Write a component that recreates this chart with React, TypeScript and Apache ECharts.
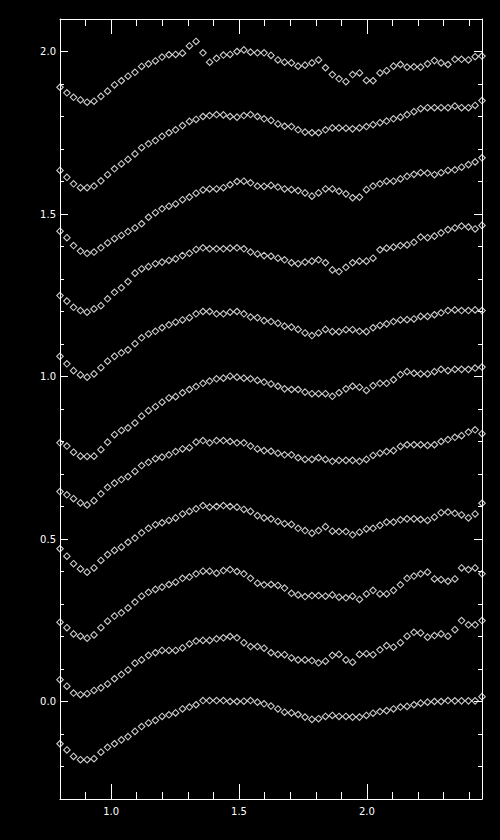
import React, { useEffect, useRef } from "react";
import * as echarts from "echarts";

// x positions (same for every curve)
const xs = [
  0.800, 0.827, 0.853, 0.880, 0.906, 0.933, 0.960, 0.986, 1.013, 1.040,
  1.066, 1.093, 1.119, 1.146, 1.173, 1.199, 1.226, 1.252, 1.279, 1.306,
  1.332, 1.359, 1.385, 1.412, 1.439, 1.465, 1.492, 1.519, 1.545, 1.572,
  1.598, 1.625, 1.652, 1.678, 1.705, 1.731, 1.758, 1.785, 1.811, 1.838,
  1.865, 1.891, 1.918, 1.944, 1.971, 1.998, 2.024, 2.051, 2.077, 2.104,
  2.131, 2.157, 2.184, 2.210, 2.237, 2.264, 2.290, 2.317, 2.344, 2.370,
  2.397, 2.423, 2.450,
];

const s10 = [1.890, 1.873, 1.859, 1.851, 1.844, 1.847, 1.862, 1.878, 1.897, 1.910, 1.924, 1.936, 1.954, 1.962, 1.971, 1.983, 1.990, 1.991, 1.995, 2.017, 2.031, 1.996, 1.967, 1.979, 1.989, 1.991, 2.000, 2.005, 1.998, 1.996, 1.996, 1.988, 1.974, 1.967, 1.965, 1.955, 1.958, 1.965, 1.974, 1.950, 1.929, 1.916, 1.907, 1.929, 1.934, 1.911, 1.910, 1.934, 1.941, 1.955, 1.960, 1.952, 1.953, 1.952, 1.962, 1.972, 1.965, 1.960, 1.976, 1.976, 1.974, 1.984, 1.986];
const s9 = [1.634, 1.613, 1.593, 1.581, 1.581, 1.586, 1.602, 1.621, 1.639, 1.654, 1.668, 1.685, 1.704, 1.716, 1.726, 1.739, 1.750, 1.759, 1.772, 1.785, 1.791, 1.800, 1.803, 1.806, 1.805, 1.800, 1.798, 1.803, 1.806, 1.800, 1.793, 1.788, 1.777, 1.770, 1.769, 1.759, 1.752, 1.750, 1.750, 1.759, 1.765, 1.765, 1.764, 1.762, 1.765, 1.769, 1.775, 1.781, 1.786, 1.793, 1.798, 1.806, 1.815, 1.824, 1.827, 1.827, 1.827, 1.827, 1.832, 1.827, 1.827, 1.834, 1.849];
const s8 = [1.447, 1.427, 1.403, 1.386, 1.379, 1.383, 1.396, 1.411, 1.424, 1.434, 1.446, 1.457, 1.470, 1.490, 1.504, 1.516, 1.524, 1.531, 1.544, 1.552, 1.564, 1.574, 1.577, 1.577, 1.581, 1.590, 1.600, 1.601, 1.596, 1.586, 1.585, 1.588, 1.583, 1.577, 1.575, 1.572, 1.565, 1.555, 1.565, 1.577, 1.577, 1.570, 1.562, 1.550, 1.552, 1.575, 1.586, 1.593, 1.601, 1.601, 1.608, 1.616, 1.622, 1.627, 1.626, 1.621, 1.627, 1.634, 1.636, 1.644, 1.652, 1.660, 1.673];
const s7 = [1.249, 1.232, 1.213, 1.203, 1.198, 1.208, 1.218, 1.239, 1.259, 1.273, 1.292, 1.318, 1.331, 1.338, 1.347, 1.352, 1.357, 1.362, 1.372, 1.379, 1.391, 1.396, 1.393, 1.393, 1.393, 1.395, 1.396, 1.393, 1.383, 1.377, 1.372, 1.370, 1.364, 1.359, 1.350, 1.347, 1.352, 1.355, 1.359, 1.350, 1.328, 1.323, 1.336, 1.350, 1.355, 1.355, 1.364, 1.390, 1.395, 1.398, 1.403, 1.405, 1.413, 1.429, 1.427, 1.432, 1.442, 1.452, 1.457, 1.463, 1.460, 1.454, 1.465];
const s6 = [1.062, 1.039, 1.018, 1.005, 0.998, 1.008, 1.027, 1.047, 1.062, 1.073, 1.082, 1.101, 1.119, 1.131, 1.139, 1.150, 1.159, 1.167, 1.174, 1.181, 1.193, 1.200, 1.200, 1.193, 1.193, 1.198, 1.200, 1.193, 1.183, 1.181, 1.172, 1.169, 1.164, 1.155, 1.152, 1.145, 1.134, 1.126, 1.134, 1.145, 1.138, 1.138, 1.144, 1.144, 1.139, 1.138, 1.150, 1.157, 1.162, 1.169, 1.174, 1.175, 1.177, 1.185, 1.185, 1.190, 1.196, 1.203, 1.205, 1.203, 1.203, 1.205, 1.203];
const s5 = [0.796, 0.786, 0.767, 0.755, 0.754, 0.755, 0.775, 0.798, 0.821, 0.834, 0.842, 0.857, 0.878, 0.895, 0.907, 0.921, 0.934, 0.938, 0.950, 0.960, 0.969, 0.979, 0.986, 0.993, 0.995, 1.001, 0.998, 0.995, 0.993, 0.988, 0.983, 0.977, 0.970, 0.962, 0.960, 0.960, 0.952, 0.947, 0.947, 0.947, 0.939, 0.950, 0.962, 0.970, 0.967, 0.957, 0.972, 0.979, 0.979, 0.990, 1.006, 1.015, 1.010, 1.008, 1.008, 1.015, 1.022, 1.018, 1.022, 1.022, 1.022, 1.026, 1.029];
const s4 = [0.646, 0.636, 0.624, 0.611, 0.605, 0.618, 0.639, 0.659, 0.672, 0.683, 0.692, 0.708, 0.726, 0.736, 0.747, 0.752, 0.759, 0.769, 0.777, 0.781, 0.798, 0.803, 0.796, 0.803, 0.803, 0.800, 0.796, 0.796, 0.786, 0.777, 0.772, 0.770, 0.764, 0.759, 0.759, 0.750, 0.745, 0.745, 0.750, 0.745, 0.739, 0.742, 0.742, 0.742, 0.739, 0.745, 0.757, 0.764, 0.769, 0.772, 0.785, 0.790, 0.790, 0.790, 0.788, 0.790, 0.800, 0.806, 0.813, 0.818, 0.829, 0.836, 0.824];
const s3 = [0.470, 0.447, 0.424, 0.408, 0.398, 0.411, 0.434, 0.452, 0.465, 0.475, 0.490, 0.503, 0.519, 0.533, 0.544, 0.550, 0.557, 0.565, 0.577, 0.585, 0.593, 0.603, 0.598, 0.600, 0.603, 0.600, 0.598, 0.591, 0.585, 0.572, 0.565, 0.562, 0.554, 0.547, 0.545, 0.533, 0.526, 0.518, 0.526, 0.538, 0.524, 0.523, 0.523, 0.513, 0.521, 0.531, 0.533, 0.542, 0.552, 0.552, 0.559, 0.562, 0.562, 0.560, 0.557, 0.567, 0.581, 0.583, 0.579, 0.574, 0.565, 0.577, 0.610];
const s2 = [0.244, 0.227, 0.208, 0.201, 0.195, 0.205, 0.227, 0.247, 0.263, 0.273, 0.288, 0.306, 0.324, 0.336, 0.345, 0.352, 0.360, 0.367, 0.379, 0.383, 0.393, 0.401, 0.401, 0.395, 0.403, 0.406, 0.400, 0.393, 0.379, 0.364, 0.359, 0.360, 0.357, 0.349, 0.333, 0.328, 0.323, 0.326, 0.326, 0.324, 0.328, 0.321, 0.319, 0.324, 0.314, 0.331, 0.342, 0.331, 0.331, 0.342, 0.359, 0.379, 0.386, 0.393, 0.398, 0.377, 0.375, 0.370, 0.377, 0.411, 0.406, 0.411, 0.393];
const s1 = [0.067, 0.047, 0.026, 0.021, 0.024, 0.034, 0.042, 0.054, 0.070, 0.083, 0.097, 0.118, 0.128, 0.142, 0.150, 0.157, 0.157, 0.157, 0.165, 0.177, 0.186, 0.188, 0.188, 0.193, 0.196, 0.200, 0.196, 0.181, 0.169, 0.169, 0.164, 0.150, 0.145, 0.144, 0.134, 0.128, 0.128, 0.126, 0.119, 0.124, 0.142, 0.145, 0.128, 0.121, 0.145, 0.147, 0.144, 0.159, 0.172, 0.167, 0.181, 0.201, 0.213, 0.211, 0.198, 0.203, 0.208, 0.201, 0.221, 0.249, 0.236, 0.236, 0.249];
const s0 = [-0.130, -0.149, -0.169, -0.179, -0.179, -0.176, -0.156, -0.141, -0.130, -0.118, -0.108, -0.092, -0.077, -0.066, -0.058, -0.046, -0.041, -0.035, -0.023, -0.017, -0.010, 0.003, 0.003, 0.003, 0.003, 0.000, 0.000, 0.001, 0.003, -0.002, -0.007, -0.014, -0.023, -0.033, -0.035, -0.040, -0.048, -0.055, -0.053, -0.046, -0.043, -0.046, -0.046, -0.048, -0.048, -0.043, -0.036, -0.031, -0.028, -0.023, -0.017, -0.015, -0.010, -0.005, -0.002, 0.000, 0.000, 0.003, 0.002, 0.002, 0.002, 0.002, 0.015];

const allSeries = [s0, s1, s2, s3, s4, s5, s6, s7, s8, s9, s10];

const X_MIN = 0.8;
const X_MAX = 2.45;
const Y_MIN = -0.3;
const Y_MAX = 2.1;

const FONT = "DejaVu Sans";

function halfStepLabel(v: number): string {
  const d = v * 2;
  return Math.abs(d - Math.round(d)) < 1e-6 ? v.toFixed(1) : "";
}

function makeAxis(kind: "x" | "y", pos: string, labels: boolean) {
  const isX = kind === "x";
  return {
    type: "value",
    position: pos,
    min: isX ? X_MIN : Y_MIN,
    max: isX ? X_MAX : Y_MAX,
    minInterval: 0.5,
    maxInterval: 0.5,
    axisLine: { show: true, onZero: false, lineStyle: { color: "#ffffff", width: 1 } },
    splitLine: { show: false },
    axisTick: {
      show: true,
      inside: true,
      length: isX ? 15 : 8,
      lineStyle: { color: "#ffffff", width: 1 },
    },
    minorTick: {
      show: true,
      splitNumber: 5,
      length: isX ? 7 : 4,
      lineStyle: { color: "#ffffff", width: 1 },
    },
    axisLabel: {
      show: labels,
      color: "#ffffff",
      fontSize: 10,
      fontFamily: FONT,
      margin: isX ? 7 : 4,
      formatter: halfStepLabel,
    },
  };
}

export default function App() {
  const ref = useRef<HTMLDivElement>(null);

  useEffect(() => {
    document.body.style.margin = "0";
    if (!ref.current) return;
    const chart = echarts.init(ref.current, undefined, { renderer: "svg" });

    chart.setOption({
      animation: false,
      backgroundColor: "#000000",
      grid: { left: 60, right: 18, top: 19, bottom: 41 },
      xAxis: [makeAxis("x", "bottom", true), makeAxis("x", "top", false)],
      yAxis: [makeAxis("y", "left", true), makeAxis("y", "right", false)],
      series: allSeries.map((ys) => ({
        type: "scatter",
        xAxisIndex: 0,
        yAxisIndex: 0,
        symbol: "diamond",
        symbolSize: 6.5,
        itemStyle: { color: "rgba(0,0,0,0)", borderColor: "#ffffff", borderWidth: 1.1 },
        emphasis: { disabled: true },
        data: xs.map((x, i) => [x, ys[i]]),
      })),
    });

    return () => chart.dispose();
  }, []);

  return <div ref={ref} style={{ width: 500, height: 840 }} />;
}
